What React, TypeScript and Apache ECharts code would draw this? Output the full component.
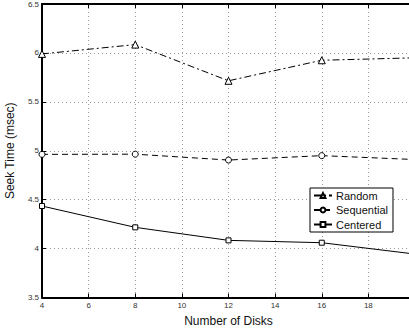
import React, { useEffect, useRef } from "react";
import * as echarts from "echarts";

const disks = [4, 8, 12, 16, 20];
const randomSeek = [5.99, 6.085, 5.715, 5.925, 5.95];
const sequentialSeek = [4.963, 4.965, 4.905, 4.95, 4.91];
const centeredSeek = [4.435, 4.217, 4.084, 4.06, 3.944];
const seriesNames = ["Random", "Sequential", "Centered"];
const xTickLabels = ["4", "6", "8", "10", "12", "14", "16", "18"];

export default function App() {
  const ref = useRef<HTMLDivElement>(null);
  useEffect(() => {
    if (!ref.current) return;
    const chart = echarts.init(ref.current, null, { renderer: "svg" });
    const font = "Liberation Sans, Arial, Helvetica, sans-serif";
    const pts = (ys: number[]) => disks.map((x, i) => [x, ys[i]]);
    const splitLine = { show: true, lineStyle: { color: "#999", type: [1, 3] as any, width: 1 } };
    chart.setOption({
      animation: false,
      backgroundColor: "#fff",
      grid: { left: 42, top: 4, width: 373, height: 293.5, containLabel: false, outerBoundsMode: "none" },
      legend: {
        show: true,
        data: seriesNames,
        orient: "vertical",
        left: 310,
        top: 188,
        padding: [2, 5, 2, 3],
        itemWidth: 18,
        itemHeight: 6,
        itemGap: 3.5,
        borderColor: "#000",
        borderWidth: 1,
        backgroundColor: "#fff",
        textStyle: { fontFamily: font, fontSize: 11, color: "#111", padding: [0, 0, 0, -1] },
      },
      xAxis: [
        {
          type: "value",
          min: 4,
          max: 20,
          interval: 2,
          position: "bottom",
          name: "Number of Disks",
          nameLocation: "middle",
          nameGap: 17,
          nameTextStyle: { fontFamily: font, fontSize: 12, color: "#111" },
          axisLine: { show: true, onZero: false, lineStyle: { color: "#000", width: 2 } },
          axisTick: { show: true, inside: true, length: 4, lineStyle: { color: "#000" } },
          axisLabel: {
            fontFamily: font,
            fontSize: 8,
            color: "#333",
            margin: 4,
            formatter: (v: number) => (xTickLabels.includes(String(v)) ? String(v) : ""),
          },
          splitLine,
        },
        {
          type: "value",
          min: 4,
          max: 20,
          interval: 2,
          position: "top",
          axisLine: { show: true, onZero: false, lineStyle: { color: "#000", width: 2 } },
          axisTick: { show: true, inside: true, length: 4, lineStyle: { color: "#000" } },
          axisLabel: { show: false },
          splitLine: { show: false },
        },
      ],
      yAxis: {
        type: "value",
        min: 3.5,
        max: 6.5,
        interval: 0.5,
        name: "Seek Time (msec)",
        nameLocation: "middle",
        nameGap: 26,
        nameTextStyle: { fontFamily: font, fontSize: 12, color: "#111" },
        axisLine: { show: true, onZero: false, lineStyle: { color: "#000", width: 2 } },
        axisTick: { show: true, inside: true, length: 4, lineStyle: { color: "#000" } },
        axisLabel: { fontFamily: font, fontSize: 8, color: "#333", margin: 3 },
        splitLine,
      },
      series: [
        {
          name: "Random",
          type: "line",
          data: pts(randomSeek),
          symbol: "triangle",
          symbolSize: 7,
          showAllSymbol: true,
          color: "#000",
          lineStyle: { color: "#000", width: 1, type: [7, 3, 2, 3] as any },
          itemStyle: { color: "#fff", borderColor: "#000", borderWidth: 1 },
          z: 3,
        },
        {
          name: "Sequential",
          type: "line",
          data: pts(sequentialSeek),
          symbol: "circle",
          symbolSize: 6,
          color: "#000",
          lineStyle: { color: "#000", width: 1, type: [6, 4] as any },
          itemStyle: { color: "#fff", borderColor: "#000", borderWidth: 1 },
          z: 3,
        },
        {
          name: "Centered",
          type: "line",
          data: pts(centeredSeek),
          symbol: "rect",
          symbolSize: 5,
          color: "#000",
          lineStyle: { color: "#000", width: 1 },
          itemStyle: { color: "#fff", borderColor: "#000", borderWidth: 1 },
          z: 3,
        },
      ],
    });
    return () => chart.dispose();
  }, []);
  return <div ref={ref} style={{ width: 409, height: 329, position: "absolute", left: 0, top: 0 }} />;
}
